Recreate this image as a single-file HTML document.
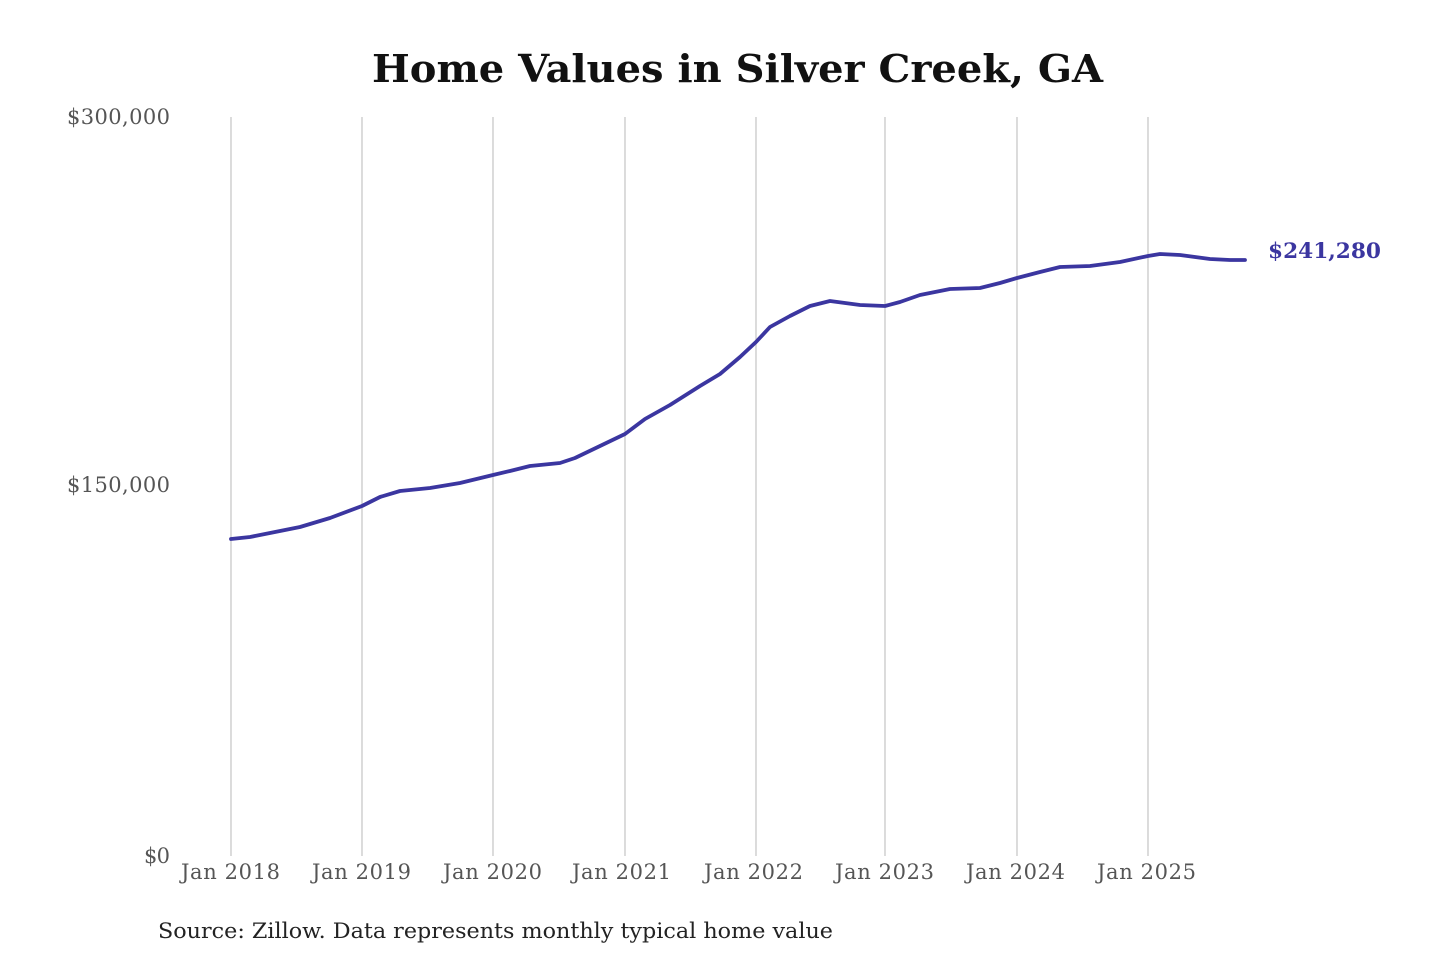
<!DOCTYPE html>
<html><head><meta charset="utf-8"><style>
html,body{margin:0;padding:0;background:#fff;}
body{width:1440px;height:960px;overflow:hidden;}
</style></head><body>
<svg width="1440" height="960" viewBox="0 0 1440 960" xmlns="http://www.w3.org/2000/svg">
<rect width="1440" height="960" fill="#fff"/>
<text x="372" y="82" textLength="731" lengthAdjust="spacingAndGlyphs" font-family="DejaVu Serif, Liberation Serif, serif" font-weight="bold" font-size="38" fill="#111">Home Values in Silver Creek, GA</text>
<g stroke="#c8c8c8" stroke-width="1.3">
<line x1="231" y1="117" x2="231" y2="856"/>
<line x1="362" y1="117" x2="362" y2="856"/>
<line x1="493" y1="117" x2="493" y2="856"/>
<line x1="625" y1="117" x2="625" y2="856"/>
<line x1="756" y1="117" x2="756" y2="856"/>
<line x1="885" y1="117" x2="885" y2="856"/>
<line x1="1017" y1="117" x2="1017" y2="856"/>
<line x1="1148" y1="117" x2="1148" y2="856"/>
</g>
<g font-family="DejaVu Serif, Liberation Serif, serif" font-size="21" fill="#555" lengthAdjust="spacingAndGlyphs">
<text x="67" y="124" textLength="103">$300,000</text>
<text x="67" y="492" textLength="103">$150,000</text>
<text x="144" y="863" textLength="26">$0</text>
<text x="181" y="879" textLength="99">Jan 2018</text>
<text x="312" y="879" textLength="99">Jan 2019</text>
<text x="443" y="879" textLength="99">Jan 2020</text>
<text x="572" y="879" textLength="99">Jan 2021</text>
<text x="704" y="879" textLength="99">Jan 2022</text>
<text x="835" y="879" textLength="99">Jan 2023</text>
<text x="966" y="879" textLength="99">Jan 2024</text>
<text x="1097" y="879" textLength="99">Jan 2025</text>
</g>
<polyline fill="none" stroke="#3b36a0" stroke-width="3.8" stroke-linejoin="round" stroke-linecap="round"
points="231,539 250,537 270,533 300,527 330,518 362,506 380,497 400,491 430,488 460,483 493,475 510,471 530,466 560,463 575,458 600,446 625,434 645,419 670,405 700,386 720,374 740,357 756,342 770,327 790,316 810,306 830,301 860,305 885,306 900,302 920,295 950,289 980,288 1000,283 1017,278 1040,272 1060,267 1090,266 1120,262 1148,256 1160,254 1180,255 1210,259 1230,260 1245,260"/>
<text x="1268" y="258" textLength="113" lengthAdjust="spacingAndGlyphs" font-family="DejaVu Serif, Liberation Serif, serif" font-weight="bold" font-size="21" fill="#3b36a0">$241,280</text>
<text x="158" y="938" textLength="675" lengthAdjust="spacingAndGlyphs" font-family="DejaVu Serif, Liberation Serif, serif" font-size="21" fill="#222">Source: Zillow. Data represents monthly typical home value</text>
</svg>
</body></html>
